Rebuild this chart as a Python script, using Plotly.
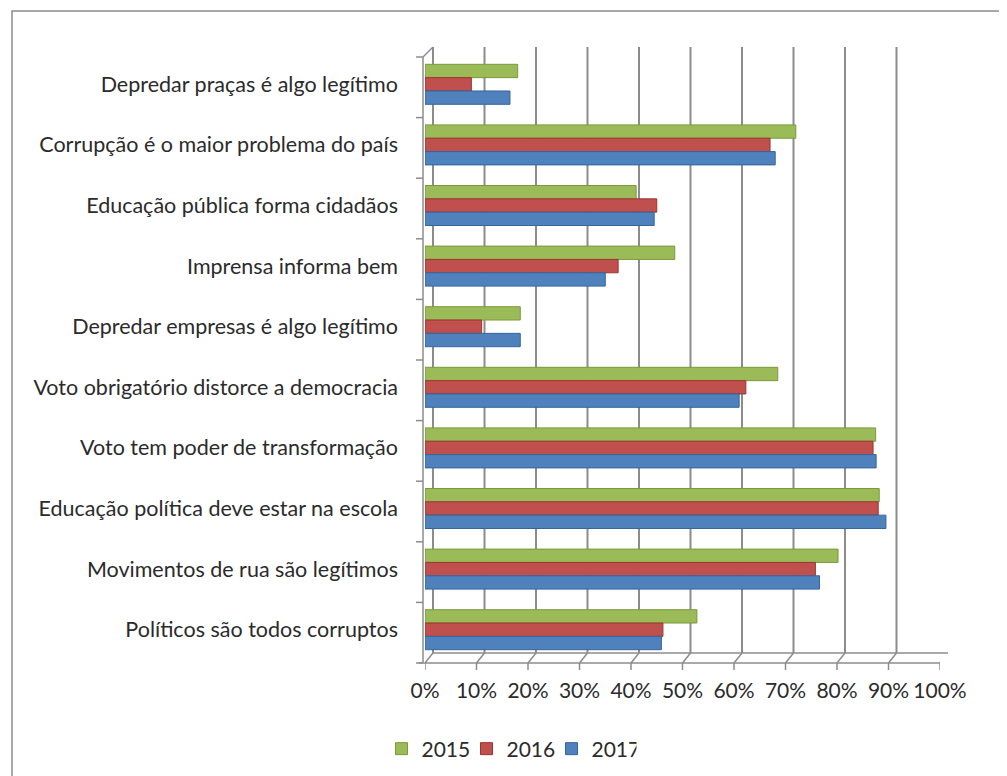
import plotly.graph_objects as go

categories = [
    "Depredar praças é algo legítimo",
    "Corrupção é o maior problema do país",
    "Educação pública forma cidadãos",
    "Imprensa informa bem",
    "Depredar empresas é algo legítimo",
    "Voto obrigatório distorce a democracia",
    "Voto tem poder de transformação",
    "Educação política deve estar na escola",
    "Movimentos de rua são legítimos",
    "Políticos são todos corruptos",
]
years = ["2015", "2016", "2017"]
v2015 = [18, 72, 41, 48.5, 18.5, 68.5, 87.5, 88.2, 80.2, 52.8]
v2016 = [9, 67, 45, 37.5, 11, 62.3, 87, 88, 75.8, 46.2]
v2017 = [16.5, 68, 44.5, 35, 18.5, 61, 87.6, 89.5, 76.6, 45.9]
colors = ["#9BBB59", "#C0504D", "#4F81BD"]
edge_colors = ["#7A9A3A", "#9C3431", "#35659E"]
xticks = list(range(0, 101, 10))

# page body margin offset (px) and target geometry in screen px
OFF = 8
W, H = 999, 776
L, R, T, B = 425, 940, 54, 660  # plot area in screen coords
PW, PH = R - L, B - T


def px_x(px):
    return (px - L) / PW


def px_y(py):
    return (B - py) / PH


fig = go.Figure()
for name, vals, c, ec in zip(years, [v2015, v2016, v2017], colors, edge_colors):
    fig.add_trace(go.Bar(
        y=categories, x=vals, name=name, orientation="h",
        marker=dict(color=c, line=dict(color=ec, width=1)),
    ))

shapes = []
grid_col = "#8C8C8C"
DX, DY = 8, 10  # 3D depth offset
floor_front = 663
floor_back = floor_front - DY
top_back = 47
for v in xticks:
    shapes.append(dict(type="line", xref="x", yref="paper", xsizemode="pixel", xanchor=v,
                       x0=DX, x1=DX, y0=px_y(floor_back), y1=px_y(top_back),
                       line=dict(color=grid_col, width=2), layer="below"))
    shapes.append(dict(type="line", xref="x", yref="paper", xsizemode="pixel", xanchor=v,
                       x0=0, x1=DX, y0=px_y(floor_front), y1=px_y(floor_back),
                       line=dict(color=grid_col, width=1.5), layer="below"))
    shapes.append(dict(type="line", xref="x", yref="paper", xsizemode="pixel", xanchor=v,
                       x0=0, x1=0, y0=px_y(floor_front), y1=px_y(floor_front + 7),
                       line=dict(color=grid_col, width=1.5), layer="below"))
shapes.append(dict(type="line", xref="paper", yref="paper", x0=px_x(L - 6), x1=px_x(R),
                   y0=px_y(floor_front), y1=px_y(floor_front), line=dict(color=grid_col, width=1.5), layer="below"))
shapes.append(dict(type="line", xref="paper", yref="paper", x0=px_x(L + DX), x1=px_x(R + DX),
                   y0=px_y(floor_back), y1=px_y(floor_back), line=dict(color=grid_col, width=1.5), layer="below"))
wall_top = top_back + DY
shapes.append(dict(type="line", xref="paper", yref="paper", x0=px_x(L - 2), x1=px_x(L - 2),
                   y0=px_y(floor_front), y1=px_y(wall_top), line=dict(color=grid_col, width=1.5), layer="below"))
shapes.append(dict(type="line", xref="paper", yref="paper", x0=px_x(L - 2), x1=px_x(L + DX),
                   y0=px_y(wall_top), y1=px_y(top_back), line=dict(color=grid_col, width=1.5), layer="below"))
n = len(categories)
step = (floor_front - wall_top) / n
for k in range(n + 1):
    yy = wall_top + k * step
    shapes.append(dict(type="line", xref="paper", yref="paper", x0=px_x(L - 9), x1=px_x(L - 2),
                       y0=px_y(yy), y1=px_y(yy), line=dict(color=grid_col, width=1.5), layer="below"))
# outer frame
shapes.append(dict(type="rect", xref="paper", yref="paper", x0=px_x(12), x1=px_x(1005),
                   y0=px_y(800), y1=px_y(11), line=dict(color="#8C8C8C", width=1.5), layer="below"))

font = "Lato, 'Open Sans', sans-serif"
fig.update_layout(
    width=W, height=H,
    margin=dict(l=L - OFF, r=W - (R - OFF), t=T - OFF, b=H - (B - OFF)),
    paper_bgcolor="white", plot_bgcolor="rgba(0,0,0,0)",
    barmode="group", bargap=0.34, bargroupgap=0,
    font=dict(family=font, size=21.5, color="#2b2b2b"),
    shapes=shapes,
    showlegend=True,
    legend=dict(orientation="h", x=px_x(509), y=px_y(749), xanchor="center", yanchor="middle",
                font=dict(size=21), traceorder="normal", itemwidth=30,
                entrywidth=40, entrywidthmode="pixels"),
    xaxis=dict(range=[0, 100], tickvals=xticks, ticktext=[f"{v}%" for v in xticks],
               showgrid=False, zeroline=False, showline=False, ticks="",
               ticklabelstandoff=16, tickfont=dict(size=21), fixedrange=True),
    yaxis=dict(categoryorder="array", categoryarray=categories, autorange="reversed",
               showgrid=False, zeroline=False, showline=False, ticks="",
               ticklabelstandoff=26, fixedrange=True),
)

fig.write_html("out.html")
